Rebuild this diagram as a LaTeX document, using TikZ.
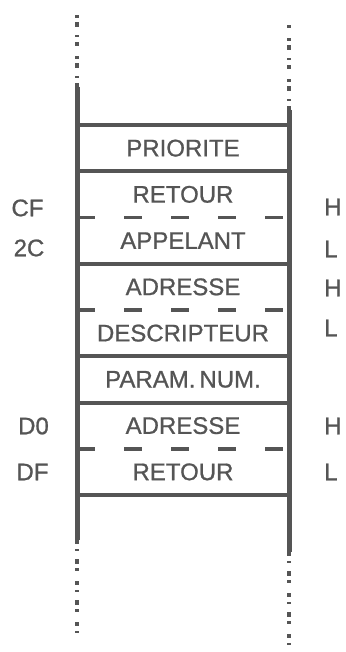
\documentclass[tikz,border=0pt]{standalone}
\usepackage{fontspec}
\setmainfont{Liberation Sans}[BoldFont={Liberation Sans}, BoldFeatures={FakeBold=0.9}]
\usetikzlibrary{positioning}
\definecolor{StackInk}{HTML}{555555}

\begin{document}
\begin{tikzpicture}[x=1pt, y=-1pt, every node/.style={font=\fontsize{24}{26}\selectfont\bfseries, text=StackInk}, cell/.style={minimum width=212pt, minimum height=46.25pt, inner sep=0pt, outer sep=0pt}, tag/.style={inner sep=0pt}, rule/.style={line width=4pt, draw=StackInk}, split/.style={line width=3.5pt, draw=StackInk, dash pattern=on 18pt off 29pt}, rail/.style={line width=5pt, draw=StackInk}, fray/.style={line width=3.5pt, draw=StackInk, dash pattern=on 4pt off 5pt on 2pt off 8pt on 5pt off 4pt on 3pt off 10pt}]
\useasboundingbox (0,0) rectangle (345,652);
% stack cells, top to bottom
\node[cell] (prio) at (183,148.125) {PRIORITE};
\node[cell] (ret1) [below=0pt of prio] {RETOUR};
\node[cell] (app) [below=0pt of ret1] {APPELANT};
\node[cell] (adr1) [below=0pt of app] {ADRESSE};
\node[cell] (desc) [below=0pt of adr1] {DESCRIPTEUR};
\node[cell] (par) [below=0pt of desc] {PARAM.\,NUM.};
\node[cell] (adr2) [below=0pt of par] {ADRESSE};
\node[cell] (ret2) [below=0pt of adr2] {RETOUR};
% offsets on the left, byte halves on the right
\node[tag] (cf) at (27.5,208) {CF};
\node[tag] (tc) at (29,248) {2C};
\node[tag] (dz) at (33.5,426) {D0};
\node[tag] (df) at (32.5,472) {DF};
\node[tag, anchor=west] (h1) at (324,207) {H};
\node[tag, anchor=west] (l1) at (324,249) {L};
\node[tag, anchor=west] (h2) at (324,288) {H};
\node[tag, anchor=west] (l2) at (324,328) {L};
\node[tag, anchor=west] (h3) at (324,426) {H};
\node[tag, anchor=west] (l3) at (324,472) {L};
% rails
\coordinate (lt) at (77,87); \coordinate (lb) at (77,540); \coordinate (rt) at (289,110); \coordinate (rb) at (289,552);
\coordinate (ltx) at (77,13); \coordinate (lbx) at (77,638); \coordinate (rtx) at (289,25); \coordinate (rbx) at (289,648);
\draw[rail] (lt)--(lb); \draw[rail] (rt)--(rb);
\draw[fray] (lt)--(ltx); \draw[fray] (lb)--(lbx); \draw[fray] (rt)--(rtx); \draw[fray] (rb)--(rbx);
% separators
\draw[rule] (prio.north west)--(prio.north east); \draw[rule] (prio.south west)--(prio.south east);
\draw[split] (ret1.south west)--(ret1.south east);
\draw[rule] (app.south west)--(app.south east);
\draw[split] (adr1.south west)--(adr1.south east);
\draw[rule] (desc.south west)--(desc.south east); \draw[rule] (par.south west)--(par.south east);
\draw[split] (adr2.south west)--(adr2.south east);
\draw[rule] (ret2.south west)--(ret2.south east);
\end{tikzpicture}
\end{document}
